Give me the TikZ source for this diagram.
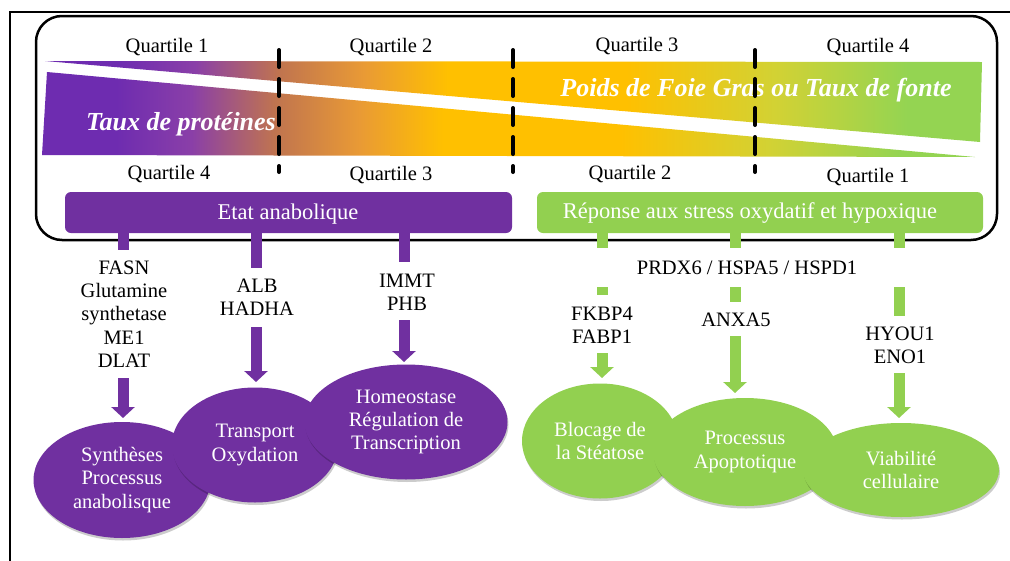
\documentclass[tikz,border=0pt]{standalone}
\usepackage{fontspec}
\setmainfont{Liberation Serif}
\usetikzlibrary{arrows.meta,shapes.geometric,shadows}
\definecolor{pur}{HTML}{7030A0}
\definecolor{grn}{HTML}{92D050}
\definecolor{yel}{HTML}{FFC000}
\definecolor{bpur}{HTML}{6E2CB0}
\definecolor{bpur2}{HTML}{8A3FA8}
\definecolor{bbrn}{HTML}{C0744F}
\definecolor{bora}{HTML}{E99A35}
\definecolor{byg}{HTML}{D2D234}
\definecolor{bgrn}{HTML}{94D452}
\pgfdeclarehorizontalshading{bandshade}{100bp}{color(0bp)=(bpur); color(25bp)=(bpur); color(29bp)=(bpur); color(33bp)=(bpur2); color(37.5bp)=(bbrn); color(42bp)=(bora); color(46.5bp)=(yel); color(56bp)=(yel); color(64bp)=(byg); color(71bp)=(bgrn); color(75bp)=(bgrn); color(100bp)=(bgrn)}
\begin{document}
\begin{tikzpicture}[x=1pt,y=-1pt,
  lbl/.style={font=\fontsize{20.5}{23.3}\selectfont, align=center, inner sep=0pt, text=black},
  boxlbl/.style={font=\fontsize{22.5}{25}\selectfont, text=white, inner sep=0pt},
  bandlbl/.style={font=\fontsize{26}{29}\selectfont\bfseries\itshape, text=white, inner sep=0pt},
  catbox/.style={rounded corners=6pt, draw=none},
  ell/.style={ellipse, inner sep=0pt, text=white, align=center,
    font=\fontsize{20.5}{23.3}\selectfont,
    drop shadow={shadow xshift=1pt, shadow yshift=-2.5pt, opacity=0.2, fill=black}},
  purell/.style={ell, fill=pur},
  grnell/.style={ell, fill=grn},
  stem/.style={line width=11pt},
  bigarrow/.style={line width=11pt, -{Triangle[width=23pt,length=11pt]}},
  qline/.style={line width=4pt, line cap=round, dash pattern=on 17pt off 12pt}
]
\useasboundingbox (0,0) rectangle (1010,560);
\fill[white] (0,0) rectangle (1010,560);
% outer frame
\draw[line width=2.5pt] (10,562) -- (10,12) -- (1012,12);
% rounded frame
\draw[line width=2.5pt, rounded corners=26pt] (36,16) rectangle (997,240);
% bands
\shade[shading=bandshade] (45,61) -- (982,62) -- (980,142) -- cycle;
\shade[shading=bandshade] (47,72) -- (975,157) -- (42,155) -- cycle;
\node[bandlbl, anchor=base] (taux) at (181,130) {Taux de protéines};
\node[bandlbl, anchor=base] (poids) at (756,96) {Poids de Foie Gras ou Taux de fonte};
% dashed quartile separators
\coordinate (d1t) at (279,50); \coordinate (d1b) at (279,172);
\coordinate (d2t) at (513,50); \coordinate (d2b) at (513,172);
\coordinate (d3t) at (755,50); \coordinate (d3b) at (755,172);
\draw[qline] (d1t) -- (d1b);
\draw[qline] (d2t) -- (d2b);
\draw[qline] (d3t) -- (d3b);
% quartile labels
\node[lbl, anchor=base] (qt1) at (167,52) {Quartile 1};
\node[lbl, anchor=base] (qt2) at (391,52) {Quartile 2};
\node[lbl, anchor=base] (qt3) at (637,51) {Quartile 3};
\node[lbl, anchor=base] (qt4) at (868,52) {Quartile 4};
\node[lbl, anchor=base] (qb4) at (169,179) {Quartile 4};
\node[lbl, anchor=base] (qb3) at (391,180) {Quartile 3};
\node[lbl, anchor=base] (qb2) at (630,179) {Quartile 2};
\node[lbl, anchor=base] (qb1) at (868,182) {Quartile 1};
% category boxes
\fill[pur, catbox] (65,192) rectangle (512,233);
\fill[grn, catbox] (537,192) rectangle (983,233);
\node[boxlbl, anchor=base] (etat) at (288,219) {Etat anabolique};
\node[boxlbl, anchor=base] (rep) at (750,218) {Réponse aux stress oxydatif et hypoxique};
% purple stems and arrows
\coordinate (p1a) at (123,231); \coordinate (p1b) at (123,250);
\coordinate (p1c) at (123,378); \coordinate (p1d) at (123,418);
\coordinate (p2a) at (256,231); \coordinate (p2b) at (256,268);
\coordinate (p2c) at (256,327); \coordinate (p2d) at (256,382);
\coordinate (p3a) at (404,231); \coordinate (p3b) at (404,262);
\coordinate (p3c) at (404,320); \coordinate (p3d) at (404,362);
\draw[stem, pur] (p1a) -- (p1b);
\draw[stem, pur] (p2a) -- (p2b);
\draw[stem, pur] (p3a) -- (p3b);
\draw[bigarrow, pur] (p1c) -- (p1d);
\draw[bigarrow, pur] (p2c) -- (p2d);
\draw[bigarrow, pur] (p3c) -- (p3d);
% green stems and arrows
\coordinate (g1a) at (602,231); \coordinate (g1b) at (602,248);
\coordinate (g1c) at (602,287); \coordinate (g1d) at (602,295);
\coordinate (g1e) at (602,353); \coordinate (g1f) at (602,378);
\coordinate (g2a) at (735,231); \coordinate (g2b) at (735,248);
\coordinate (g2c) at (735,287); \coordinate (g2d) at (735,302);
\coordinate (g2e) at (735,336); \coordinate (g2f) at (735,393);
\coordinate (g3a) at (899,231); \coordinate (g3b) at (899,248);
\coordinate (g3c) at (899,287); \coordinate (g3d) at (899,316);
\coordinate (g3e) at (899,373); \coordinate (g3f) at (899,418);
\draw[stem, grn] (g1a) -- (g1b);
\draw[stem, grn] (g1c) -- (g1d);
\draw[stem, grn] (g2a) -- (g2b);
\draw[stem, grn] (g2c) -- (g2d);
\draw[stem, grn] (g3a) -- (g3b);
\draw[stem, grn] (g3c) -- (g3d);
\draw[bigarrow, grn] (g1e) -- (g1f);
\draw[bigarrow, grn] (g2e) -- (g2f);
\draw[bigarrow, grn] (g3e) -- (g3f);
% protein labels
\node[lbl] (l1) at (124,314) {FASN\\Glutamine\\synthetase\\ME1\\DLAT};
\node[lbl] (l2) at (257,297) {ALB\\HADHA};
\node[lbl] (l3) at (407,292) {IMMT\\PHB};
\node[lbl, anchor=base] (l4) at (747,274) {PRDX6 / HSPA5 / HSPD1};
\node[lbl] (l5) at (602,325) {FKBP4\\FABP1};
\node[lbl, anchor=base] (l6) at (736,326) {ANXA5};
\node[lbl] (l7) at (900,345) {HYOU1\\ENO1};
% ellipses
\node[purell, minimum width=177pt, minimum height=116pt] (e1) at (122,480) {Synthèses\\Processus\\anabolisque};
\node[purell, minimum width=166pt, minimum height=115pt] (e2) at (255,445) {Transport\\Oxydation};
\node[purell, minimum width=203pt, minimum height=115pt] (e3) at (406,422) {Homeostase\\Régulation de\\Transcription};
\node[grnell, minimum width=156pt, minimum height=115pt] (e4) at (600,441) {Blocage de\\la Stéatose};
\node[grnell, minimum width=184pt, minimum height=108pt] (e5) at (745,452) {Processus\\Apoptotique};
\node[grnell, minimum width=196pt, minimum height=94pt] (e6) at (901,470) {Viabilité\\cellulaire};
\end{tikzpicture}
\end{document}
